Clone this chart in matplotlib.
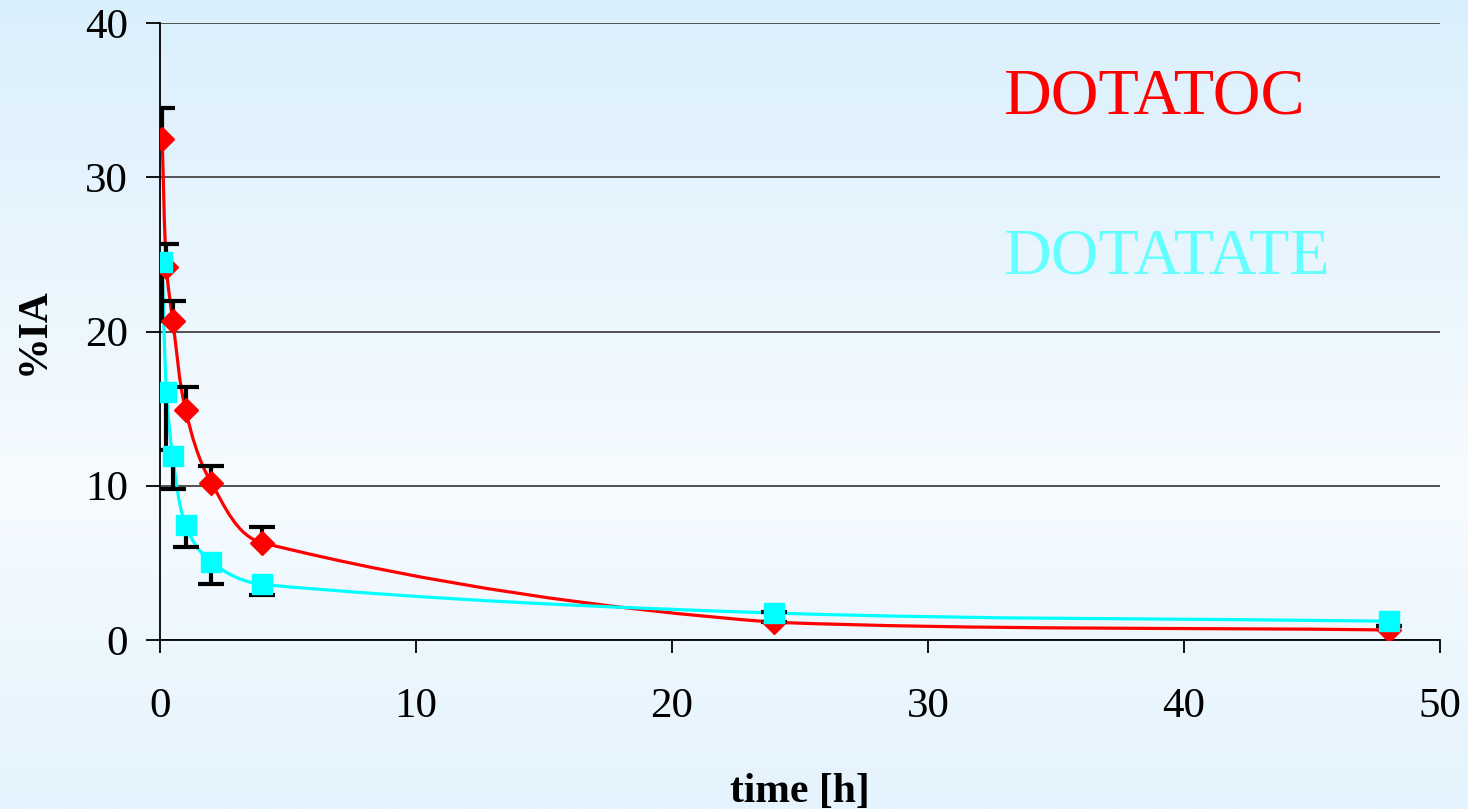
import numpy as np
import matplotlib
matplotlib.use("Agg")
import matplotlib.pyplot as plt
from matplotlib.path import Path
from matplotlib.patches import PathPatch

# ---------------- data ----------------
time_h = [5/60, 0.25, 0.5, 1, 2, 4, 24, 48]
dotatoc = [32.5, 24.2, 20.7, 14.9, 10.2, 6.3, 1.15, 0.65]
dotatoc_err_plus = [2.0, 1.5, 1.3, 1.5, 1.1, 1.0, 0.65, 0.25]
dotatate = [24.5, 16.1, 11.9, 7.45, 5.05, 3.6, 1.75, 1.22]
dotatate_err_minus = [3.8, 3.8, 2.1, 1.45, 1.45, 0.7, 0.58, 0.32]
x_ticks = [0, 10, 20, 30, 40, 50]
y_ticks = [0, 10, 20, 30, 40]

RED = "#ff0000"
CYAN = "#00ffff"
CYAN_TXT = "#66ffff"
SERIF = ["Liberation Serif", "DejaVu Serif"]

W, H, DPI = 1468, 809, 100
fig = plt.figure(figsize=(W / DPI, H / DPI), dpi=DPI)

# background gradient
bg = fig.add_axes([0, 0, 1, 1], zorder=-10)
ys = np.linspace(0, 1, 400)
stops_y = [0.0, 0.6, 1.0]
stops_c = np.array([[218, 239, 252], [246, 251, 255], [228, 243, 253]]) / 255.0
grad = np.stack([np.interp(ys, stops_y, stops_c[:, k]) for k in range(3)], axis=-1)
bg.imshow(grad[:, None, :], aspect="auto", extent=[0, 1, 0, 1], origin="upper")
bg.axis("off")

# main axes
L, R, T, B = 160, 1440, 23, 640
ax = fig.add_axes([L / W, 1 - B / H, (R - L) / W, (B - T) / H])
ax.patch.set_alpha(0)
ax.set_xlim(0, 50)
ax.set_ylim(0, 40)
ax.set_xticks(x_ticks)
ax.set_yticks(y_ticks)
for s in ["top", "right"]:
    ax.spines[s].set_visible(False)
for s in ["left", "bottom"]:
    ax.spines[s].set_color("black")
    ax.spines[s].set_linewidth(1.3)
ax.yaxis.grid(True, color="#444444", linewidth=1.3)
ax.set_axisbelow(True)
ax.tick_params(axis="y", direction="out", length=10, width=1.3, pad=13, labelsize=31)
ax.tick_params(axis="x", direction="out", length=9.5, width=1.3, pad=25, labelsize=31)
for lab in ax.get_xticklabels() + ax.get_yticklabels():
    lab.set_fontfamily(SERIF)


def smooth_curve(x, y, color, z):
    pts = ax.transData.transform(np.column_stack([x, y]))
    n = len(pts)
    verts = [pts[0]]
    codes = [Path.MOVETO]
    for i in range(n - 1):
        p0 = pts[max(i - 1, 0)]
        p1 = pts[i]
        p2 = pts[i + 1]
        p3 = pts[min(i + 2, n - 1)]
        seg = np.linalg.norm(p2 - p1) / 3.0
        d1 = p2 - p0
        d1 = d1 / np.linalg.norm(d1)
        d2 = p3 - p1
        d2 = d2 / np.linalg.norm(d2)
        c1 = p1 + d1 * seg
        c2 = p2 - d2 * seg
        lo, hi = sorted([p1[1], p2[1]])
        c1[1] = np.clip(c1[1], lo, hi)
        c2[1] = np.clip(c2[1], lo, hi)
        verts += [c1, c2, p2]
        codes += [Path.CURVE4] * 3
    data = ax.transData.inverted().transform(np.array(verts))
    patch = PathPatch(Path(data, codes), fill=False, edgecolor=color,
                      linewidth=2.3, zorder=z, capstyle="round", joinstyle="round")
    ax.add_patch(patch)


smooth_curve(time_h, dotatoc, RED, 2)
smooth_curve(time_h, dotatate, CYAN, 2.1)

t = np.array(time_h)
red_y = np.array(dotatoc)
cy_y = np.array(dotatate)
red_top = red_y + np.array(dotatoc_err_plus)
cy_bot = cy_y - np.array(dotatate_err_minus)

# error bars (one-sided)
ax.vlines(t, red_y, red_top, color="black", linewidth=3, zorder=3)
ax.plot(t, red_top, ls="none", marker="_", ms=19, mew=3, color="black", zorder=3)
ax.vlines(t, cy_bot, cy_y, color="black", linewidth=3, zorder=3)
ax.plot(t, cy_bot, ls="none", marker="_", ms=19, mew=3, color="black", zorder=3)

# markers
ax.plot(t, red_y, ls="none", marker="D", ms=12.5, color=RED, mec=RED, zorder=4)
ax.plot(t, cy_y, ls="none", marker="s", ms=14.5, color=CYAN, mec=CYAN, zorder=5)

# axis labels
ax.set_xlabel("time [h]", fontsize=30, fontweight="bold", fontfamily=SERIF, va="baseline")
ax.xaxis.set_label_coords(0.5, (B - 802) / (B - T))
ax.set_ylabel("%IA", fontsize=30, fontweight="bold", fontfamily=SERIF, va="center", ha="center")
ax.yaxis.set_label_coords((34 - L) / (R - L), 0.5)

# series names
fig.text(1003 / W, 1 - 113 / H, "DOTATOC", color=RED, fontsize=47.5,
         fontfamily=SERIF, ha="left", va="baseline")
fig.text(1003 / W, 1 - 273 / H, "DOTATATE", color=CYAN_TXT, fontsize=47.5,
         fontfamily=SERIF, ha="left", va="baseline")

fig.savefig("out.png", dpi=DPI)
